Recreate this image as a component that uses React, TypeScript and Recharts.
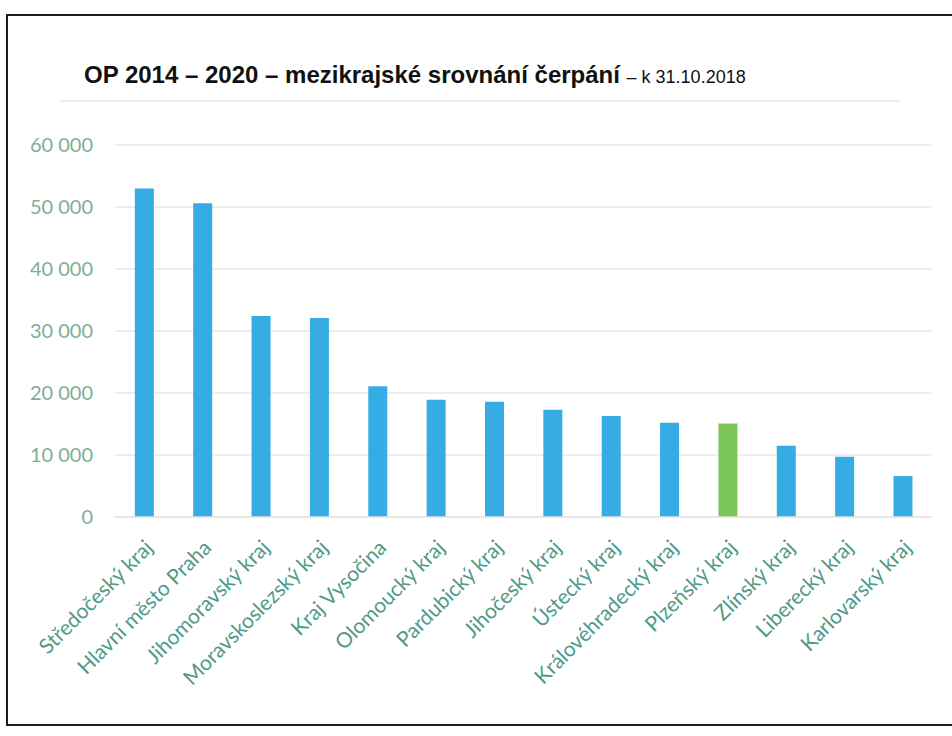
import { BarChart, Bar, XAxis, YAxis, CartesianGrid, Cell } from "recharts";

// regions, ordered by drawdown (mil. Kč)
const regions = [
  "Středočeský kraj",
  "Hlavní město Praha",
  "Jihomoravský kraj",
  "Moravskoslezský kraj",
  "Kraj Vysočina",
  "Olomoucký kraj",
  "Pardubický kraj",
  "Jihočeský kraj",
  "Ústecký kraj",
  "Královéhradecký kraj",
  "Plzeňský kraj",
  "Zlínský kraj",
  "Liberecký kraj",
  "Karlovarský kraj",
];
const values = [53000, 50600, 32400, 32100, 21100, 18900, 18600, 17300, 16300, 15200, 15100, 11500, 9700, 6600];
const highlighted = "Plzeňský kraj";
const yTicks = [0, 10000, 20000, 30000, 40000, 50000, 60000];

const data = regions.map((name, i) => ({ name, value: values[i] }));

const fmt = (v: number) => (v === 0 ? "0" : v.toLocaleString("en-US").replace(",", " "));

function RegionTick(props: any) {
  const { x, y, payload } = props;
  const ax = x + 10;
  const ay = y + 32;
  return (
    <text
      x={ax}
      y={ay}
      transform={`rotate(-45, ${ax}, ${ay})`}
      textAnchor="end"
      fill="#509a88"
      fontSize={21}
      fontFamily="Lato, sans-serif"
    >
      {payload.value}
    </text>
  );
}

export default function App() {
  return (
    <div style={{ position: "absolute", left: 0, top: 0, width: 952, height: 736, overflow: "hidden", background: "#fff" }}>
      <div
        style={{
          position: "absolute",
          left: 6,
          top: 14,
          width: 970,
          height: 708,
          border: "2px solid #1c1c1c",
        }}
      />
      <div
        style={{
          position: "absolute",
          left: 84,
          top: 61,
          fontFamily: "'Liberation Sans', Arial, sans-serif",
          color: "#111",
          whiteSpace: "nowrap",
        }}
      >
        <span style={{ fontSize: 24, fontWeight: "bold" }}>OP 2014 – 2020 – mezikrajské srovnání čerpání </span>
        <span style={{ fontSize: 18 }}>– k 31.10.2018</span>
      </div>
      <div style={{ position: "absolute", left: 60, top: 100, width: 840, height: 2, background: "#ececec" }} />
      <div style={{ position: "absolute", left: 0, top: 0 }}>
        <BarChart
          width={952}
          height={736}
          data={data}
          margin={{ top: 145, right: 20, bottom: 0, left: 0 }}
          barCategoryGap="34%"
        >
          <CartesianGrid vertical={false} stroke="#e8e8e8" strokeWidth={1.5} />
          <XAxis
            dataKey="name"
            interval={0}
            height={219}
            tickLine={false}
            axisLine={{ stroke: "#e4e4e4", strokeWidth: 1.5 }}
            tickSize={0}
            tickMargin={0}
            tick={<RegionTick />}
          />
          <YAxis
            width={115}
            domain={[0, 60000]}
            ticks={yTicks}
            tickFormatter={fmt}
            axisLine={false}
            tickLine={false}
            tickSize={0}
            tickMargin={22}
            tick={{ fill: "#7fae98", fontSize: 20, fontFamily: "Lato, sans-serif" }}
          />
          <Bar dataKey="value" isAnimationActive={false}>
            {data.map((d) => (
              <Cell key={d.name} fill={d.name === highlighted ? "#7cc65a" : "#35ace3"} />
            ))}
          </Bar>
        </BarChart>
      </div>
    </div>
  );
}
